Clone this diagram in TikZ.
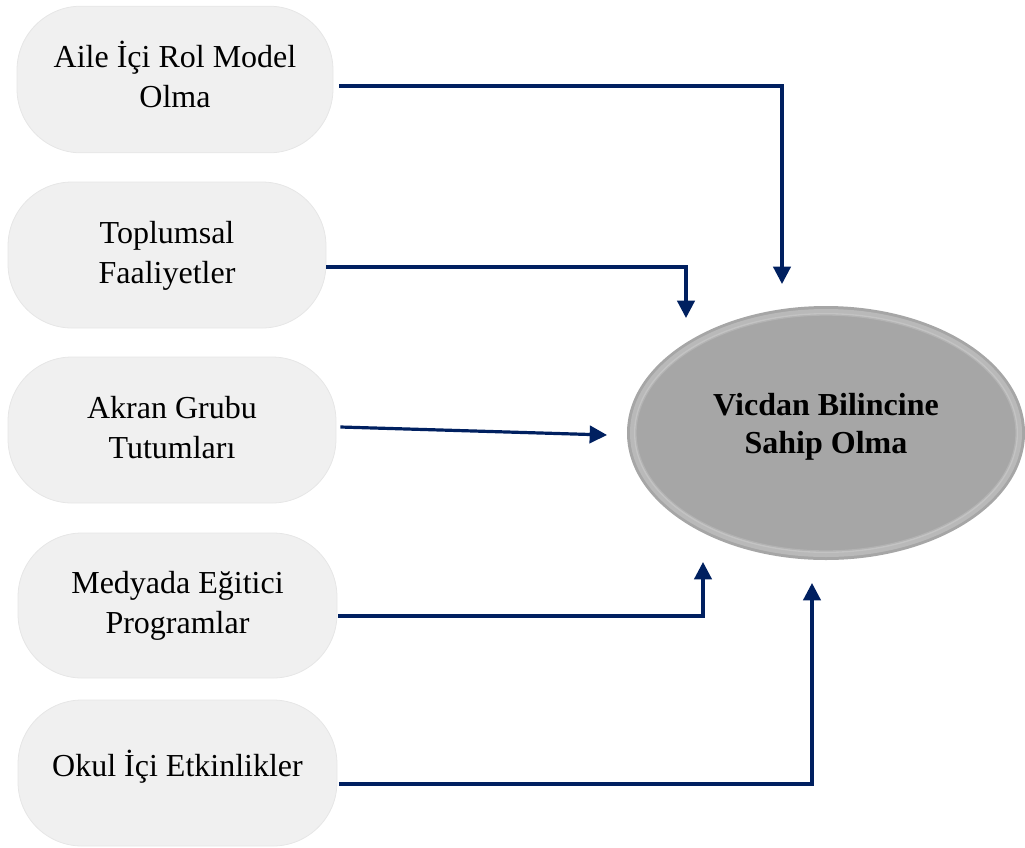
\documentclass[tikz,border=0pt]{standalone}
\usepackage{fontspec}
\setmainfont{Liberation Serif}
\usetikzlibrary{arrows.meta,shapes.geometric}
\definecolor{navy}{HTML}{002060}
\definecolor{boxfill}{HTML}{F0F0F0}
\definecolor{boxedge}{HTML}{E6E6E6}
\definecolor{ellfill}{HTML}{A6A6A6}
\newcommand\stacktext[1]{\begin{tabular}{@{}c@{}}#1\end{tabular}}
\newcommand\raisedtext[2]{\raisebox{#1}[\height][\depth]{#2}}
\begin{document}
\begin{tikzpicture}[x=0.75pt,y=-0.75pt,
  pill/.style={rectangle, rounded corners=48pt, fill=boxfill, draw=boxedge,
    line width=0.6pt, align=center, inner sep=0pt,
    font=\fontsize{24}{30}\selectfont},
  conn/.style={draw=navy, line width=2.4pt, -{Triangle[width=13pt,length=13pt]}}]
\useasboundingbox (0,0) rectangle (1025,847);

\node[pill, minimum width=237pt, minimum height=110pt] (b1) at (175,79.5) {\stacktext{Aile İçi Rol Model\\Olma}};
\node[pill, minimum width=238.5pt, minimum height=109.5pt] (b2) at (167,255) {\stacktext{Toplumsal\\Faaliyetler}};
\node[pill, minimum width=246pt, minimum height=109.5pt] (b3) at (172,430) {\stacktext{Akran Grubu\\Tutumları}};
\node[pill, minimum width=239.25pt, minimum height=108.75pt] (b4) at (177.5,605.5) {\stacktext{Medyada Eğitici\\Programlar}};
\node[pill, minimum width=239.25pt, minimum height=109.5pt] (b5) at (177.5,773) {\raisedtext{4.5pt}{Okul İçi Etkinlikler}};

\node[ellipse, fill=ellfill, minimum width=298.5pt,
  minimum height=190.5pt, inner sep=0pt, font=\bfseries\fontsize{24}{28.5}\selectfont]
  (e) at (826,433) {\raisedtext{4.5pt}{\stacktext{Vicdan Bilincine\\Sahip Olma}}};
\draw[white, opacity=0.22, line width=4pt] (e.center) ellipse [x radius=145pt, y radius=91pt];
\draw[white, opacity=0.15, line width=2pt] (e.center) ellipse [x radius=143pt, y radius=89pt];

\coordinate (t1) at (782,284);
\coordinate (t2) at (686,318);
\coordinate (t3) at (607,435);
\coordinate (t4) at (703,562);
\coordinate (t5) at (812,583);

\draw[conn] ([xshift=4.5pt,yshift=-4.9pt]b1.east) -| (t1);
\draw[conn] ([yshift=-9pt]b2.east) -| (t2);
\draw[conn] ([xshift=3pt,yshift=2.25pt]b3.east) -- (t3);
\draw[conn] ([xshift=0.75pt,yshift=-7.9pt]b4.east) -| (t4);
\draw[conn] ([xshift=1.5pt,yshift=-8.25pt]b5.east) -| (t5);
\end{tikzpicture}
\end{document}
